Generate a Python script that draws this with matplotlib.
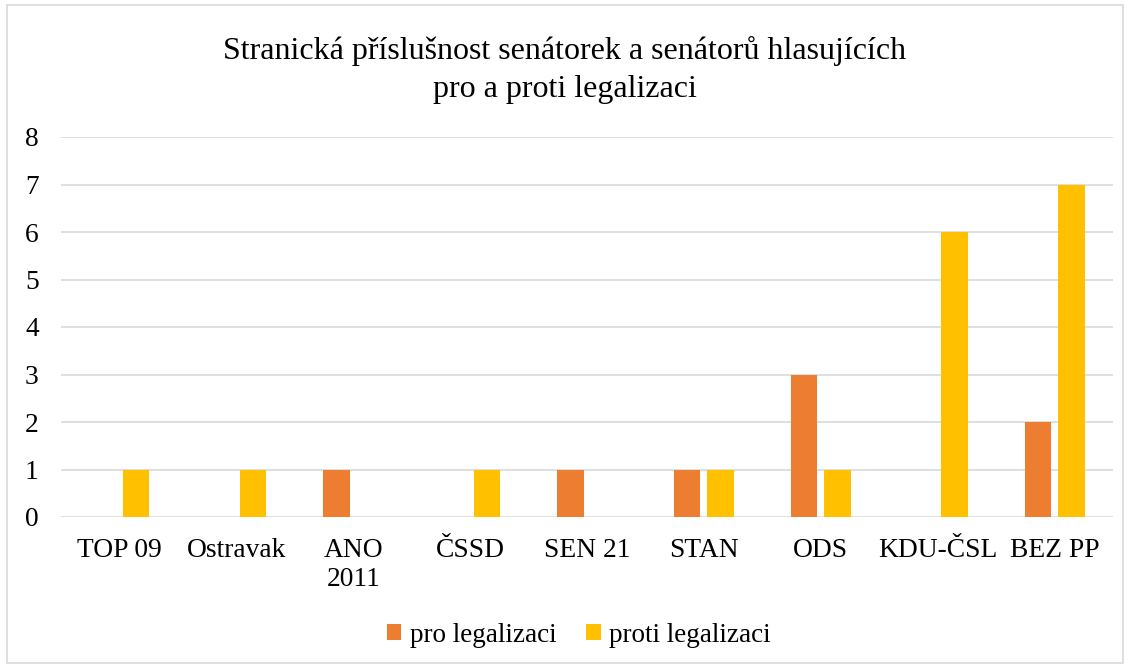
import matplotlib
matplotlib.use("Agg")
import numpy as np
import matplotlib.pyplot as plt
from matplotlib.patches import Rectangle

# data
parties = ["TOP 09", "Ostravak", "ANO\n2011", "ČSSD", "SEN 21", "STAN", "ODS", "KDU-ČSL", "BEZ PP"]
pro_values = [0, 0, 1, 0, 1, 1, 3, 0, 2]
proti_values = [1, 1, 0, 1, 0, 1, 1, 6, 7]
series_names = ["pro legalizaci", "proti legalizaci"]

plt.rcParams["font.family"] = ["Liberation Serif", "DejaVu Serif"]

fig = plt.figure(figsize=(11.3, 6.66), dpi=100)
ax = fig.add_axes([61 / 1130, 1 - 517 / 666, 1052 / 1130, 380 / 666])

x = np.arange(len(parties))
w = 0.227
off = 0.143
ax.bar(x - off, pro_values, width=w, color="#ED7D31", label=series_names[0], zorder=3)
ax.bar(x + off, proti_values, width=w, color="#FFC000", label=series_names[1], zorder=3)

ax.set_xlim(-0.5, len(parties) - 0.5)
ax.set_ylim(0, 8)
ax.set_yticks(range(0, 9))
ax.yaxis.grid(True, color="#D9D9D9", linewidth=1.2, zorder=0)
ax.set_xticks(x)
ax.set_xticklabels(parties, fontsize=19.8, linespacing=1.2)
ax.tick_params(axis="y", labelsize=19.8, length=0, pad=16)
ax.tick_params(axis="x", length=0, pad=15)
for s in ax.spines.values():
    s.set_visible(False)
ax.set_axisbelow(True)

fig.text(0.5, 1 - 70 / 666, "Stranická příslušnost senátorek a senátorů hlasujících\npro a proti legalizaci",
         ha="center", va="center", fontsize=23, linespacing=1.45)

fig.legend(loc="center", bbox_to_anchor=(0.512, 1 - 635 / 666), ncol=2, frameon=False,
           fontsize=19.5, handlelength=0.55, handleheight=0.55, handletextpad=0.3, columnspacing=1.1)

fig.patches.append(Rectangle((7 / 1130, 3 / 666), 1116 / 1130, 658 / 666, transform=fig.transFigure,
                             fill=False, edgecolor="#D9D9D9", linewidth=1.2))

fig.savefig("out.png", dpi=100)
